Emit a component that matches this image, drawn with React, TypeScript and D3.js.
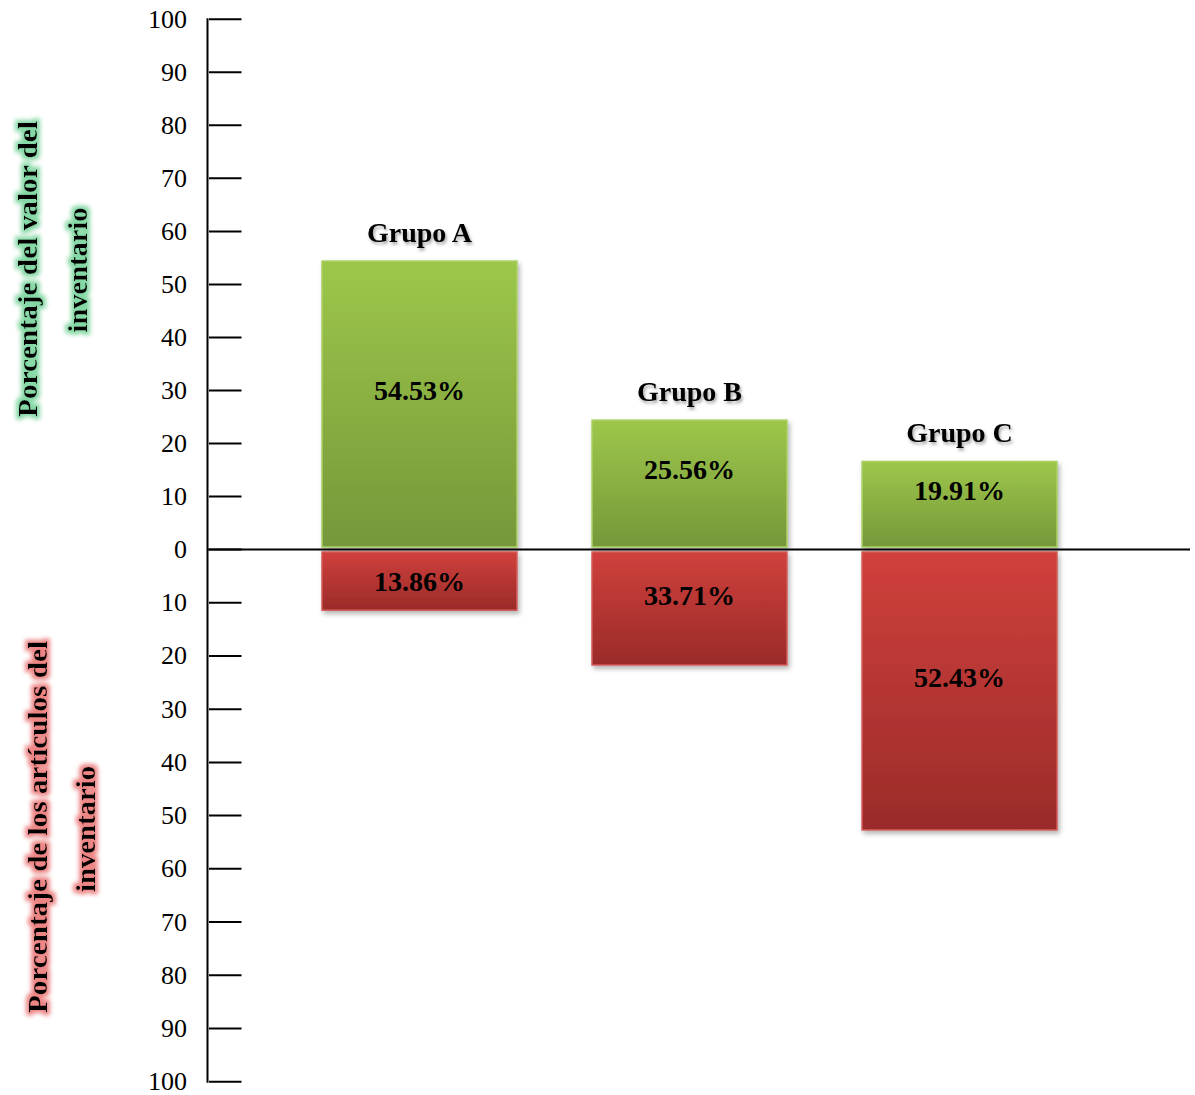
import React from "react";
import * as d3 from "d3";

const groups = ["Grupo A", "Grupo B", "Grupo C"];
const valueShare = [54.4, 24.4, 16.6]; // bar heights as drawn (upper)
const itemShare = [11.4, 21.7, 52.7]; // bar heights as drawn (lower)
const valueLabels = ["54.53%", "25.56%", "19.91%"];
const itemLabels = ["13.86%", "33.71%", "52.43%"];
const tickValues = [0, 10, 20, 30, 40, 50, 60, 70, 80, 90, 100];
const titleTop = ["Porcentaje del valor del", "inventario"];
const titleBottom = ["Porcentaje de los artículos del", "inventario"];

const W = 1195;
const H = 1095;
const FONT = "'Liberation Serif', 'Times New Roman', Times, serif";

export default function App() {
  const yTop = d3.scaleLinear().domain([0, 100]).range([549.5, 19.3]);
  const yBot = d3.scaleLinear().domain([0, 100]).range([549.5, 1081.7]);
  const x = d3.scaleBand<string>().domain(groups).range([322, 1057]).paddingInner(0.278).paddingOuter(0);
  const bw = x.bandwidth();
  const zero = yTop(0);
  const gap = 2.5;
  const axisX = 207.5;

  return (
    <svg width={W} height={H} style={{ position: "absolute", left: 0, top: 0, background: "#fff" }} fontFamily={FONT}>
      <defs>
        <linearGradient id="gGreen" x1="0" y1="0" x2="0" y2="1">
          <stop offset="0" stopColor="#9dc74a" />
          <stop offset="1" stopColor="#76973a" />
        </linearGradient>
        <linearGradient id="gRed" x1="0" y1="0" x2="0" y2="1">
          <stop offset="0" stopColor="#d0403c" />
          <stop offset="1" stopColor="#9a2b29" />
        </linearGradient>
        <filter id="barShadow" x="-10%" y="-10%" width="130%" height="130%">
          <feDropShadow dx="2" dy="3" stdDeviation="2.5" floodColor="#000" floodOpacity="0.3" />
        </filter>
        <filter id="txtShadow" x="-10%" y="-30%" width="130%" height="170%">
          <feDropShadow dx="1.5" dy="2.5" stdDeviation="1.8" floodColor="#000" floodOpacity="0.35" />
        </filter>
        <filter id="glowGreen" x="-20%" y="-20%" width="140%" height="140%">
          <feMorphology in="SourceAlpha" operator="dilate" radius="2.5" result="d" />
          <feGaussianBlur in="d" stdDeviation="2" result="b" />
          <feFlood floodColor="#7fd6a0" floodOpacity="0.95" />
          <feComposite in2="b" operator="in" result="g" />
          <feMerge>
            <feMergeNode in="g" />
            <feMergeNode in="SourceGraphic" />
          </feMerge>
        </filter>
        <filter id="glowRed" x="-20%" y="-20%" width="140%" height="140%">
          <feMorphology in="SourceAlpha" operator="dilate" radius="2.5" result="d" />
          <feGaussianBlur in="d" stdDeviation="2" result="b" />
          <feFlood floodColor="#ec7f7f" floodOpacity="0.95" />
          <feComposite in2="b" operator="in" result="g" />
          <feMerge>
            <feMergeNode in="g" />
            <feMergeNode in="SourceGraphic" />
          </feMerge>
        </filter>
      </defs>

      {/* bars */}
      {groups.map((g, i) => {
        const x0 = x(g)!;
        const topY = yTop(valueShare[i]);
        const gTop = topY;
        const gBottom = zero - gap;
        const rTop = zero + gap;
        const rBottom = yBot(itemShare[i]);
        const gH = gBottom - gTop;
        const rH = rBottom - rTop;
        const gMid = (gTop + gBottom) / 2 - (gH > 70 ? 14 : 0);
        const rMid = (rTop + rBottom) / 2 - (rH > 70 ? 13 : 0);
        return (
          <g key={g}>
            <rect x={x0} y={gTop} width={bw} height={gH} fill="url(#gGreen)" stroke="#a9d063" strokeWidth={1.5} filter="url(#barShadow)" />
            <rect x={x0} y={rTop} width={bw} height={rH} fill="url(#gRed)" stroke="#d25a57" strokeWidth={1.5} filter="url(#barShadow)" />
            <text x={x0 + bw / 2} y={gMid} textAnchor="middle" dominantBaseline="central" fontWeight="bold" fontSize={28} fill="#000">
              {valueLabels[i]}
            </text>
            <text x={x0 + bw / 2} y={rMid} textAnchor="middle" dominantBaseline="central" fontWeight="bold" fontSize={28} fill="#000">
              {itemLabels[i]}
            </text>
            <text x={x0 + bw / 2} y={topY - 29} textAnchor="middle" dominantBaseline="central" fontWeight="bold" fontSize={28} fill="#000" filter="url(#txtShadow)">
              {g}
            </text>
          </g>
        );
      })}

      {/* zero line */}
      <line x1={axisX} x2={1190} y1={zero} y2={zero} stroke="#000" strokeWidth={2} />

      {/* vertical axis */}
      <line x1={axisX} x2={axisX} y1={yTop(100) - 1} y2={yBot(100) + 1} stroke="#000" strokeWidth={2} />
      {tickValues.map((t) => (
        <g key={"t" + t}>
          <line x1={axisX + 1.5} x2={241.5} y1={yTop(t)} y2={yTop(t)} stroke="#000" strokeWidth={2} />
          <text x={187} y={yTop(t)} textAnchor="end" dominantBaseline="central" fontSize={26} fill="#000">
            {t}
          </text>
        </g>
      ))}
      {tickValues.filter((t) => t > 0).map((t) => (
        <g key={"b" + t}>
          <line x1={axisX + 1.5} x2={241.5} y1={yBot(t)} y2={yBot(t)} stroke="#000" strokeWidth={2} />
          <text x={187} y={yBot(t)} textAnchor="end" dominantBaseline="central" fontSize={26} fill="#000">
            {t}
          </text>
        </g>
      ))}

      {/* axis titles */}
      <g filter="url(#glowGreen)" fontWeight="bold" fontSize={28} fill="#000">
        <text x={27} y={269} transform="rotate(-90 27 269)" textAnchor="middle" dominantBaseline="central" textLength={296} lengthAdjust="spacingAndGlyphs">
          {titleTop[0]}
        </text>
        <text x={77} y={270} transform="rotate(-90 77 270)" textAnchor="middle" dominantBaseline="central" textLength={125} lengthAdjust="spacingAndGlyphs">
          {titleTop[1]}
        </text>
      </g>
      <g filter="url(#glowRed)" fontWeight="bold" fontSize={28} fill="#000">
        <text x={37} y={827} transform="rotate(-90 37 827)" textAnchor="middle" dominantBaseline="central" textLength={372} lengthAdjust="spacingAndGlyphs">
          {titleBottom[0]}
        </text>
        <text x={85} y={829} transform="rotate(-90 85 829)" textAnchor="middle" dominantBaseline="central" textLength={126} lengthAdjust="spacingAndGlyphs">
          {titleBottom[1]}
        </text>
      </g>
    </svg>
  );
}
